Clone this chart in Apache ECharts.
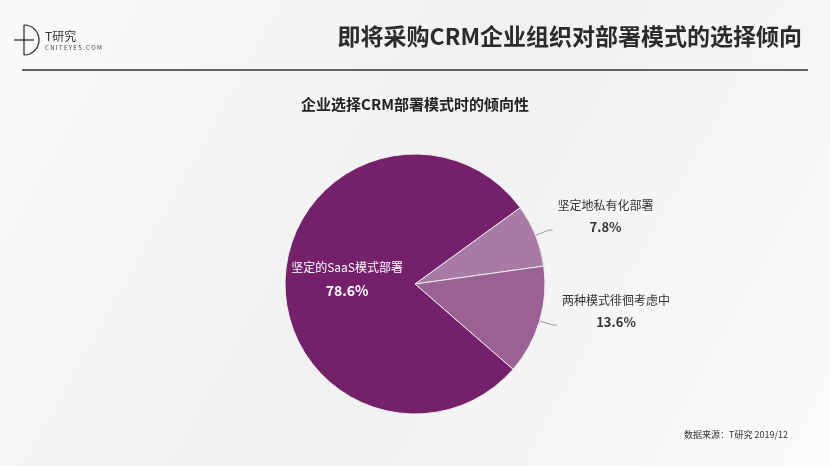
<!DOCTYPE html>
<html><head><meta charset="utf-8">
<script src="https://cdn.jsdelivr.net/npm/echarts@6/dist/echarts.min.js"></script>
<style>html,body{margin:0;padding:0;background:#f7f7f7}#c{width:830px;height:466px}</style>
</head><body><div id="c"></div>
<script>
const categories = ['坚定地私有化部署', '两种模式徘徊考虑中', '坚定的SaaS模式部署'];
const values = [7.8, 13.6, 78.6];
const colors = ['#a87ba4', '#9a6294', '#74206b'];
const F = '"Noto Sans CJK SC", "Noto Sans", sans-serif';
const chart = echarts.init(document.getElementById('c'));
chart.setOption({
  backgroundColor: '#f7f7f7',
  textStyle: { fontFamily: F },
  graphic: [
    { type: 'rect', shape: { x: 0, y: 0, width: 830, height: 466 }, style: { fill: new echarts.graphic.LinearGradient(0,0,1,1,[{offset:0,color:'#fafafa'},{offset:0.5,color:'#f1f1f1'},{offset:1,color:'#fbfbfb'}]) }, z: -10 },
    { type: 'arc', shape: { cx: 24, cy: 40, r: 15, startAngle: -Math.PI/2, endAngle: Math.PI/2 }, style: { stroke: '#222', lineWidth: 1.2, fill: null } },
    { type: 'line', shape: { x1: 14, y1: 40, x2: 34, y2: 40 }, style: { stroke: '#222', lineWidth: 1.2 } },
    { type: 'line', shape: { x1: 24, y1: 25, x2: 24, y2: 55 }, style: { stroke: '#222', lineWidth: 1.2 } },
    { type: 'text', left: 45, top: 30, style: { text: 'T研究', font: '12px ' + F, fill: '#333' } },
    { type: 'text', left: 45, top: 45, style: { text: 'C N I T E Y E S . C O M', font: '6px ' + F, fill: '#444' } },
    { type: 'text', right: 28, top: 25, style: { text: '即将采购CRM企业组织对部署模式的选择倾向', font: 'bold 23px ' + F, fill: '#2b2b2b' } },
    { type: 'line', shape: { x1: 22, y1: 70, x2: 808, y2: 70 }, style: { stroke: '#333', lineWidth: 1.5 } },
    { type: 'text', left: 'center', top: 97, style: { text: '企业选择CRM部署模式时的倾向性', font: 'bold 15px ' + F, fill: '#222' } },
    { type: 'text', right: 42, top: 430, style: { text: '数据来源：T研究 2019/12', font: '9px ' + F, fill: '#333' } }
  ],
  series: [{
    type: 'pie',
    center: [415, 284],
    radius: [0, 130],
    startAngle: 36,
    clockwise: true,
    itemStyle: { borderColor: '#eee', borderWidth: 1 },
    labelLine: { length: 14, length2: 4, lineStyle: { color: '#999', width: 1 } },
    label: {
      position: 'outside',
      padding: [0, 0, 28, 0],
      formatter: p => '{n|' + p.name + '}\n{v|' + p.value + '%}',
      rich: {
        n: { fontSize: 12, color: '#333', fontFamily: F, lineHeight: 22, align: 'left' },
        v: { fontSize: 13, fontWeight: 'bold', color: '#333', fontFamily: F, lineHeight: 22, align: 'center' }
      }
    },
    data: categories.map((c, i) => {
      const d = { name: c, value: values[i], itemStyle: { color: colors[i] } };
      if (i === 2) d.label = { position: 'inside', padding: [0, 0, 4, 0], rich: {
        n: { fontSize: 12, color: '#fff', fontFamily: F, lineHeight: 24 },
        v: { fontSize: 14, fontWeight: 'bold', color: '#fff', fontFamily: F, lineHeight: 24 } } };
      return d;
    })
  }]
});
</script></body></html>
